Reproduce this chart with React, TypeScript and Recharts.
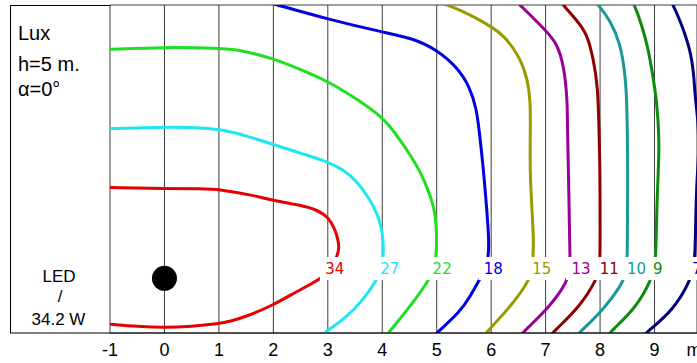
import React from 'react';
import { ComposedChart, Line, Scatter, XAxis, YAxis, CartesianGrid } from 'recharts';

const W = 697;
const H = 363;

const xTicks = [-1, 0, 1, 2, 3, 4, 5, 6, 7, 8, 9];
const yTicks = [-1, 0, 1, 2, 3, 4, 5];
const xDomain = [-1, 9.78];
const yDomain = [-1, 5];

const levels = ['34', '27', '22', '18', '15', '13', '11', '10', '9', '7'];
const colors = ['#e60000', '#1ee6f2', '#1ee01e', '#0000e0', '#9a9a00', '#990099', '#900000', '#189898', '#0c8c0c', '#000080'];
const labelX = [3.13, 4.14, 5.1, 6.04, 6.93, 7.65, 8.17, 8.67, 9.06, 9.78];
const labelY = 0.17;

const iso34 = [[-1, 1.66], [-0.99, 1.66], [0, 1.64], [0.7, 1.64], [1, 1.63], [1.63, 1.52], [2, 1.42], [2.49, 1.34], [2.79, 1.26], [3.01, 1.12], [3.13, 0.9], [3.19, 0.7], [3.21, 0.55], [3.16, 0.37], [3.06, 0.18], [2.89, 0], [2.43, -0.24], [2, -0.49], [1.5, -0.7], [1.2, -0.79], [1, -0.83], [0.5, -0.88], [0, -0.9], [-0.5, -0.88], [-0.99, -0.84], [-1, -0.84]];
const iso27 = [[-1, 2.74], [-0.99, 2.74], [-0.5, 2.75], [0, 2.77], [0.9, 2.75], [1.26, 2.68], [2, 2.45], [2.49, 2.29], [3.01, 2.13], [3.3, 1.98], [3.55, 1.76], [3.75, 1.48], [3.9, 1.2], [3.98, 0.95], [4.02, 0.7], [4.02, 0.39], [3.98, 0.18], [3.92, 0], [3.65, -0.4], [3.29, -0.76], [2.95, -0.98], [2.93, -1.02], [2.92, -1.03]];
const iso22 = [[-1, 4.19], [-0.99, 4.19], [0, 4.23], [1, 4.21], [1.39, 4.18], [2, 4.02], [2.5, 3.82], [3.01, 3.6], [3.5, 3.3], [4.0, 2.96], [4.28, 2.6], [4.5, 2.28], [4.7, 1.95], [4.85, 1.6], [4.95, 1.3], [4.99, 1.0], [5.0, 0.7], [4.99, 0.39], [4.95, 0.18], [4.88, 0], [4.51, -0.52], [4.11, -1.0], [4.1, -1.02], [4.09, -1.03]];
const iso18 = [[2.0, 5.02], [2.01, 5.02], [3.0, 4.74], [4.02, 4.5], [4.57, 4.39], [5.0, 4.18], [5.37, 3.87], [5.61, 3.5], [5.73, 3.1], [5.78, 2.71], [5.86, 1.98], [5.92, 1.25], [5.96, 0.7], [5.95, 0.39], [5.89, 0.18], [5.8, 0], [5.61, -0.34], [5.43, -0.61], [5.0, -1.0], [4.99, -1.02], [4.98, -1.03]];
const iso15 = [[5.12, 5.02], [5.13, 5.02], [5.43, 4.91], [5.8, 4.72], [6.0, 4.6], [6.23, 4.45], [6.53, 4.05], [6.67, 3.63], [6.72, 3.26], [6.72, 2.71], [6.71, 1.98], [6.75, 1.25], [6.78, 0.7], [6.77, 0.39], [6.75, 0.18], [6.72, 0], [6.41, -0.46], [5.92, -0.98], [5.9, -1.02], [5.89, -1.03]];
const iso13 = [[6.5, 5.02], [6.51, 5.02], [7.0, 4.54], [7.21, 4.3], [7.34, 3.87], [7.4, 3.26], [7.4, 2.71], [7.42, 1.98], [7.44, 0.7], [7.45, 0.39], [7.44, 0.18], [7.42, -0.03], [7.08, -0.52], [6.59, -0.98], [6.57, -1.02], [6.56, -1.03]];
const iso11 = [[7.3, 5.02], [7.31, 5.02], [7.57, 4.72], [7.76, 4.48], [7.88, 4.0], [7.96, 3.5], [7.98, 2.71], [8.0, 1.98], [8.0, 0.7], [8.0, 0.39], [7.98, 0.18], [7.95, 0], [7.63, -0.52], [7.14, -0.98], [7.12, -1.02], [7.11, -1.03]];
const iso10 = [[7.94, 5.02], [7.95, 5.02], [8.19, 4.72], [8.37, 4.3], [8.46, 3.75], [8.49, 3.26], [8.5, 2.71], [8.51, 1.98], [8.5, 0.7], [8.5, 0.39], [8.48, 0.18], [8.46, -0.03], [8.06, -0.58], [7.63, -0.98], [7.61, -1.02], [7.6, -1.03]];
const iso9 = [[8.61, 5.02], [8.62, 5.02], [8.76, 4.66], [8.89, 4.18], [8.97, 3.69], [9.04, 3.26], [9.09, 2.53], [9.07, 1.98], [9.04, 1.25], [9.03, 0.7], [9.02, 0.39], [8.99, 0.18], [8.95, 0], [8.68, -0.52], [8.19, -0.98], [8.17, -1.02], [8.16, -1.03]];
const iso7 = [[9.32, 5.02], [9.33, 5.02], [9.47, 4.72], [9.66, 4.18], [9.72, 3.75], [9.75, 3.26], [9.8, 2.9], [9.82, 2.3], [9.77, 1.74], [9.75, 0.7], [9.74, 0.39], [9.71, 0.18], [9.66, -0.03], [9.35, -0.58], [8.86, -0.98], [8.84, -1.02], [8.83, -1.03]];

const contours = [iso34, iso27, iso22, iso18, iso15, iso13, iso11, iso10, iso9, iso7];

const lamp = [{ x: 0, y: 0 }];

const toPoints = (arr: number[][]) => arr.map(([x, y]) => ({ x, y }));

const labelData = levels.map((text, i) => ({ x: labelX[i], y: labelY, text, color: colors[i] }));

const LabelShape = (props: any) => {
  const { cx, cy, payload } = props;
  if (cx == null || cy == null) return null;
  const w = payload.text.length * 9.5 + 11;
  return (
    <g>
      <rect x={cx - w / 2} y={cy - 12} width={w} height={23} fill="#ffffff" />
      <text
        x={cx}
        y={cy}
        dy="0.36em"
        textAnchor="middle"
        fill={payload.color}
        fontSize={15}
        fontFamily="'DejaVu Sans', Verdana, sans-serif"
      >
        {payload.text}
      </text>
    </g>
  );
};

const LampShape = (props: any) => {
  const { cx, cy } = props;
  if (cx == null || cy == null) return null;
  return <circle cx={cx} cy={cy} r={12.5} fill="#000" />;
};

const font = "'Liberation Sans', Arial, sans-serif";

export default function App() {
  return (
    <div style={{ position: 'absolute', left: 0, top: 0, width: W, height: H, background: '#fff', overflow: 'hidden' }}>
      <ComposedChart width={W} height={H} margin={{ top: 5, right: 0, bottom: 0, left: 110 }}>
        <CartesianGrid stroke="#3a3a3a" strokeWidth={1} />
        <XAxis
          dataKey="x"
          type="number"
          domain={xDomain}
          ticks={xTicks}
          allowDataOverflow
          height={30}
          tickLine={false}
          tickMargin={4}
          axisLine={{ stroke: '#000' }}
          tick={{ fill: '#000', fontSize: 18, fontFamily: font }}
          interval={0}
        />
        <YAxis
          dataKey="y"
          type="number"
          domain={yDomain}
          ticks={yTicks}
          allowDataOverflow
          width={0}
          tick={false}
          axisLine={false}
          tickLine={false}
        />
        {contours.map((c, i) => (
          <Line
            key={levels[i]}
            data={toPoints(c)}
            dataKey="y"
            type="basis"
            stroke={colors[i]}
            strokeWidth={3}
            dot={false}
            activeDot={false}
            isAnimationActive={false}
          />
        ))}
        <Scatter data={lamp} dataKey="y" shape={LampShape} isAnimationActive={false} />
        <Scatter data={labelData} dataKey="y" shape={LabelShape} isAnimationActive={false} />
      </ComposedChart>
      <svg width={W} height={H} style={{ position: 'absolute', left: 0, top: 0, pointerEvents: 'none' }}>
        <line x1={10.5} y1={5} x2={10.5} y2={333} stroke="#000" strokeWidth={1} />
        <line x1={10} y1={5.5} x2={110} y2={5.5} stroke="#000" strokeWidth={1} />
        <line x1={10} y1={333} x2={110} y2={333} stroke="#000" strokeWidth={1} />
        <text x={18} y={40} fontSize={20} fontFamily={font} fill="#000">Lux</text>
        <text x={18} y={71} fontSize={20} fontFamily={font} fill="#000">h=5 m.</text>
        <text x={18} y={96} fontSize={20} fontFamily={font} fill="#000">α=0°</text>
        <text x={59} y={282} fontSize={17} fontFamily={font} fill="#000" textAnchor="middle">LED</text>
        <text x={60} y={302} fontSize={17} fontFamily={font} fill="#000" textAnchor="middle">/</text>
        <text x={58.5} y={325} fontSize={17} fontFamily={font} fill="#000" textAnchor="middle">34.2 W</text>
        <text x={686.5} y={356} fontSize={18} fontFamily={font} fill="#000">m</text>
      </svg>
    </div>
  );
}
